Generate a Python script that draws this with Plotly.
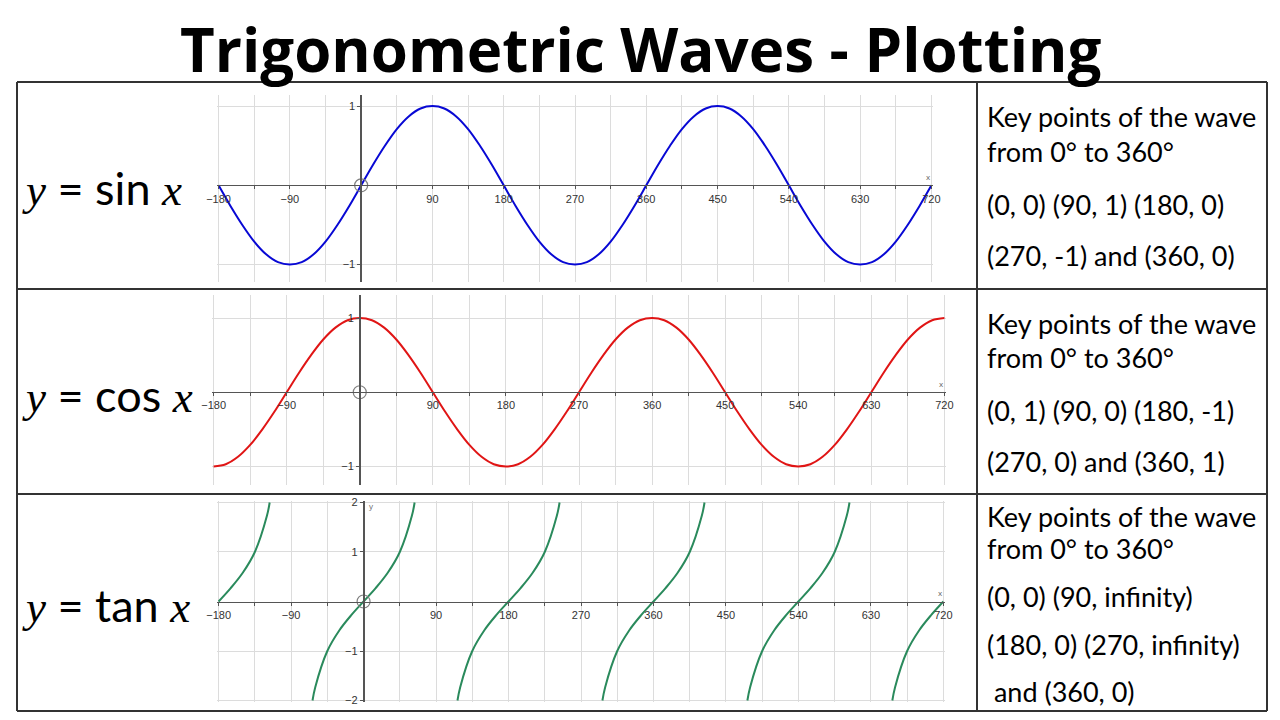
import plotly.graph_objects as go

# sampled degrees shared by the sine and cosine traces
deg = [-180, -165, -150, -135, -120, -105, -90, -75, -60, -45, -30, -15,
       0, 15, 30, 45, 60, 75, 90, 105, 120, 135, 150, 165,
       180, 195, 210, 225, 240, 255, 270, 285, 300, 315, 330, 345,
       360, 375, 390, 405, 420, 435, 450, 465, 480, 495, 510, 525,
       540, 555, 570, 585, 600, 615, 630, 645, 660, 675, 690, 705, 720]

sin_y = [0, -.26, -.5, -.71, -.87, -.97, -1, -.97, -.87, -.71, -.5, -.26,
         0, .26, .5, .71, .87, .97, 1, .97, .87, .71, .5, .26,
         0, -.26, -.5, -.71, -.87, -.97, -1, -.97, -.87, -.71, -.5, -.26,
         0, .26, .5, .71, .87, .97, 1, .97, .87, .71, .5, .26,
         0, -.26, -.5, -.71, -.87, -.97, -1, -.97, -.87, -.71, -.5, -.26, 0]

cos_y = [-1, -.97, -.87, -.71, -.5, -.26, 0, .26, .5, .71, .87, .97,
         1, .97, .87, .71, .5, .26, 0, -.26, -.5, -.71, -.87, -.97,
         -1, -.97, -.87, -.71, -.5, -.26, 0, .26, .5, .71, .87, .97,
         1, .97, .87, .71, .5, .26, 0, -.26, -.5, -.71, -.87, -.97,
         -1, -.97, -.87, -.71, -.5, -.26, 0, .26, .5, .71, .87, .97, 1]

# tan branches, broken at the asymptotes
tan_x = [-180, -165, -150, -135, -120, -116.6, None,
         -63.4, -60, -45, -30, -15, 0, 15, 30, 45, 60, 63.4, None,
         116.6, 120, 135, 150, 165, 180, 195, 210, 225, 240, 243.4, None,
         296.6, 300, 315, 330, 345, 360, 375, 390, 405, 420, 423.4, None,
         476.6, 480, 495, 510, 525, 540, 555, 570, 585, 600, 603.4, None,
         656.6, 660, 675, 690, 705, 720]
tan_y = [0, .27, .58, 1, 1.73, 2, None,
         -2, -1.73, -1, -.58, -.27, 0, .27, .58, 1, 1.73, 2, None,
         -2, -1.73, -1, -.58, -.27, 0, .27, .58, 1, 1.73, 2, None,
         -2, -1.73, -1, -.58, -.27, 0, .27, .58, 1, 1.73, 2, None,
         -2, -1.73, -1, -.58, -.27, 0, .27, .58, 1, 1.73, 2, None,
         -2, -1.73, -1, -.58, -.27, 0]

x_ticks = [-180, -90, 90, 180, 270, 360, 450, 540, 630, 720]
x_text = ["\u2212180", "\u221290", "90", "180", "270", "360", "450", "540", "630", "720"]
x_minor = [-135, -45, 45, 135, 225, 315, 405, 495, 585, 675]

trig_y_ticks = [1, -1]
trig_y_text = ["1", "\u22121"]
tan_y_ticks = [2, 1, -1, -2]
tan_y_text = ["2", "1", "\u22121", "\u22122"]

labels = ["sin", "cos", "tan"]
key_points = [
    ["Key points of the wave", "from 0\u00b0 to 360\u00b0",
     "(0, 0) (90, 1) (180, 0)", "(270, -1) and (360, 0)"],
    ["Key points of the wave", "from 0\u00b0 to 360\u00b0",
     "(0, 1) (90, 0) (180, -1)", "(270, 0) and (360, 1)"],
    ["Key points of the wave", "from 0\u00b0 to 360\u00b0",
     "(0, 0) (90, infinity)", "(180, 0) (270, infinity)", " and (360, 0)"],
]

# the page puts the figure 8px in from the window corner
OFF = 8
W, H = 1280 - 2 * OFF, 720 - 2 * OFF


def fx(px):
    return (px - OFF) / W


def fy(py):
    return 1 - (py - OFF) / H


GRID = "#dcdcdc"
AXIS = "#555555"
TEXT_FONT = "Lato, Carlito, Calibri, sans-serif"
SERIF = "Liberation Serif, Times New Roman, serif"

# window-pixel boxes of the three plotting areas
rows = [
    dict(px=(217, 933), py=(95, 282), yr=(-1.22, 1.14), color="#0808d4",
         yt=trig_y_ticks, ytt=trig_y_text),
    dict(px=(212, 946), py=(295, 485), yr=(-1.25, 1.31), color="#e01515",
         yt=trig_y_ticks, ytt=trig_y_text),
    dict(px=(217, 945), py=(501, 702), yr=(-2.03, 2.03), color="#2a8a5c",
         yt=tan_y_ticks, ytt=tan_y_text),
]
series = [(deg, sin_y), (deg, cos_y), (tan_x, tan_y)]
label_y = [188, 395, 605]
text_y = [[117, 151, 205, 255], [323, 358, 410, 461], [516, 548, 596, 644, 691]]

fig = go.Figure()
xr = (-182, 722)

for i, r in enumerate(rows):
    n = "" if i == 0 else str(i + 1)
    xd = [fx(r["px"][0]), fx(r["px"][1])]
    yd = [fy(r["py"][1]), fy(r["py"][0])]
    y0 = yd[0] + (0 - r["yr"][0]) / (r["yr"][1] - r["yr"][0]) * (yd[1] - yd[0])
    x0 = xd[0] + (0 - xr[0]) / (xr[1] - xr[0]) * (xd[1] - xd[0])

    xs, ys = series[i]
    fig.add_trace(go.Scatter(x=xs, y=ys, mode="lines", line_shape="spline",
                             line=dict(color=r["color"], width=2),
                             xaxis="x" + n, yaxis="y" + n, showlegend=False))
    fig.add_trace(go.Scatter(x=[0], y=[0], mode="markers",
                             marker=dict(symbol="circle-open", size=13,
                                         color="#808080", line=dict(width=1.2)),
                             xaxis="x" + n, yaxis="y" + n, showlegend=False))

    fig.update_layout(**{
        "xaxis" + n: dict(
            domain=xd, range=list(xr), anchor="free", position=y0,
            automargin=False,
            tickmode="array", tickvals=x_ticks, ticktext=x_text,
            showgrid=True, gridcolor=GRID, zeroline=False,
            showline=True, linecolor=AXIS, linewidth=1,
            ticks="outside", ticklen=3, tickcolor=AXIS,
            tickfont=dict(family="Liberation Sans, Arial", size=11, color="#333"),
            minor=dict(tickvals=x_minor, showgrid=True, gridcolor=GRID,
                       ticks="outside", ticklen=3, tickcolor=AXIS),
            fixedrange=True),
        "yaxis" + n: dict(
            domain=yd, range=list(r["yr"]), anchor="free", position=x0,
            automargin=False,
            tickmode="array", tickvals=r["yt"], ticktext=r["ytt"],
            showgrid=True, gridcolor=GRID, zeroline=False,
            showline=True, linecolor=AXIS, linewidth=1.5,
            ticks="outside", ticklen=3, tickcolor=AXIS,
            tickfont=dict(family="Liberation Sans, Arial", size=11, color="#333"),
            fixedrange=True),
    })

    # axis letters
    fig.add_annotation(x=720, y=0, xref="x" + n, yref="y" + n, text="x",
                       showarrow=False, yshift=9, xshift=-3,
                       font=dict(size=8, color="#666"))
    if i == 2:
        fig.add_annotation(x=0, y=2, xref="x" + n, yref="y" + n, text="y",
                           showarrow=False, xshift=8, yshift=-3,
                           font=dict(size=8, color="#666"))

    # left label
    fig.add_annotation(
        x=fx(20), y=fy(label_y[i]), xref="paper", yref="paper",
        xanchor="left", yanchor="middle", showarrow=False,
        text=("<span style='font-family:%s'><i>y</i></span> = %s "
              "<span style='font-family:%s'><i>x</i></span>") % (SERIF, labels[i], SERIF),
        font=dict(family=TEXT_FONT, size=45, color="black"))

    # right column text
    for line, ty in zip(key_points[i], text_y[i]):
        fig.add_annotation(x=fx(985), y=fy(ty), xref="paper", yref="paper",
                           xanchor="left", yanchor="middle", showarrow=False,
                           text=line, font=dict(family=TEXT_FONT, size=27, color="black"))

# table lines
line_style = dict(color="#333333", width=2)
for y in [82, 289, 494, 711]:
    fig.add_shape(type="line", xref="paper", yref="paper",
                  x0=fx(17), x1=fx(1267), y0=fy(y), y1=fy(y), line=line_style)
for x in [17, 977, 1267]:
    fig.add_shape(type="line", xref="paper", yref="paper",
                  x0=fx(x), x1=fx(x), y0=fy(82), y1=fy(711), line=line_style)

fig.add_annotation(x=fx(640), y=fy(49), xref="paper", yref="paper",
                   xanchor="center", yanchor="middle",
                   text="<b>Trigonometric Waves - Plotting</b>", showarrow=False,
                   font=dict(family="Open Sans, sans-serif", size=60, color="black"))

fig.update_layout(
    template="none",
    width=W, height=H,
    margin=dict(l=0, r=0, t=0, b=0, pad=0),
    paper_bgcolor="white",
    plot_bgcolor="white",
)

fig.write_html("out.html")
